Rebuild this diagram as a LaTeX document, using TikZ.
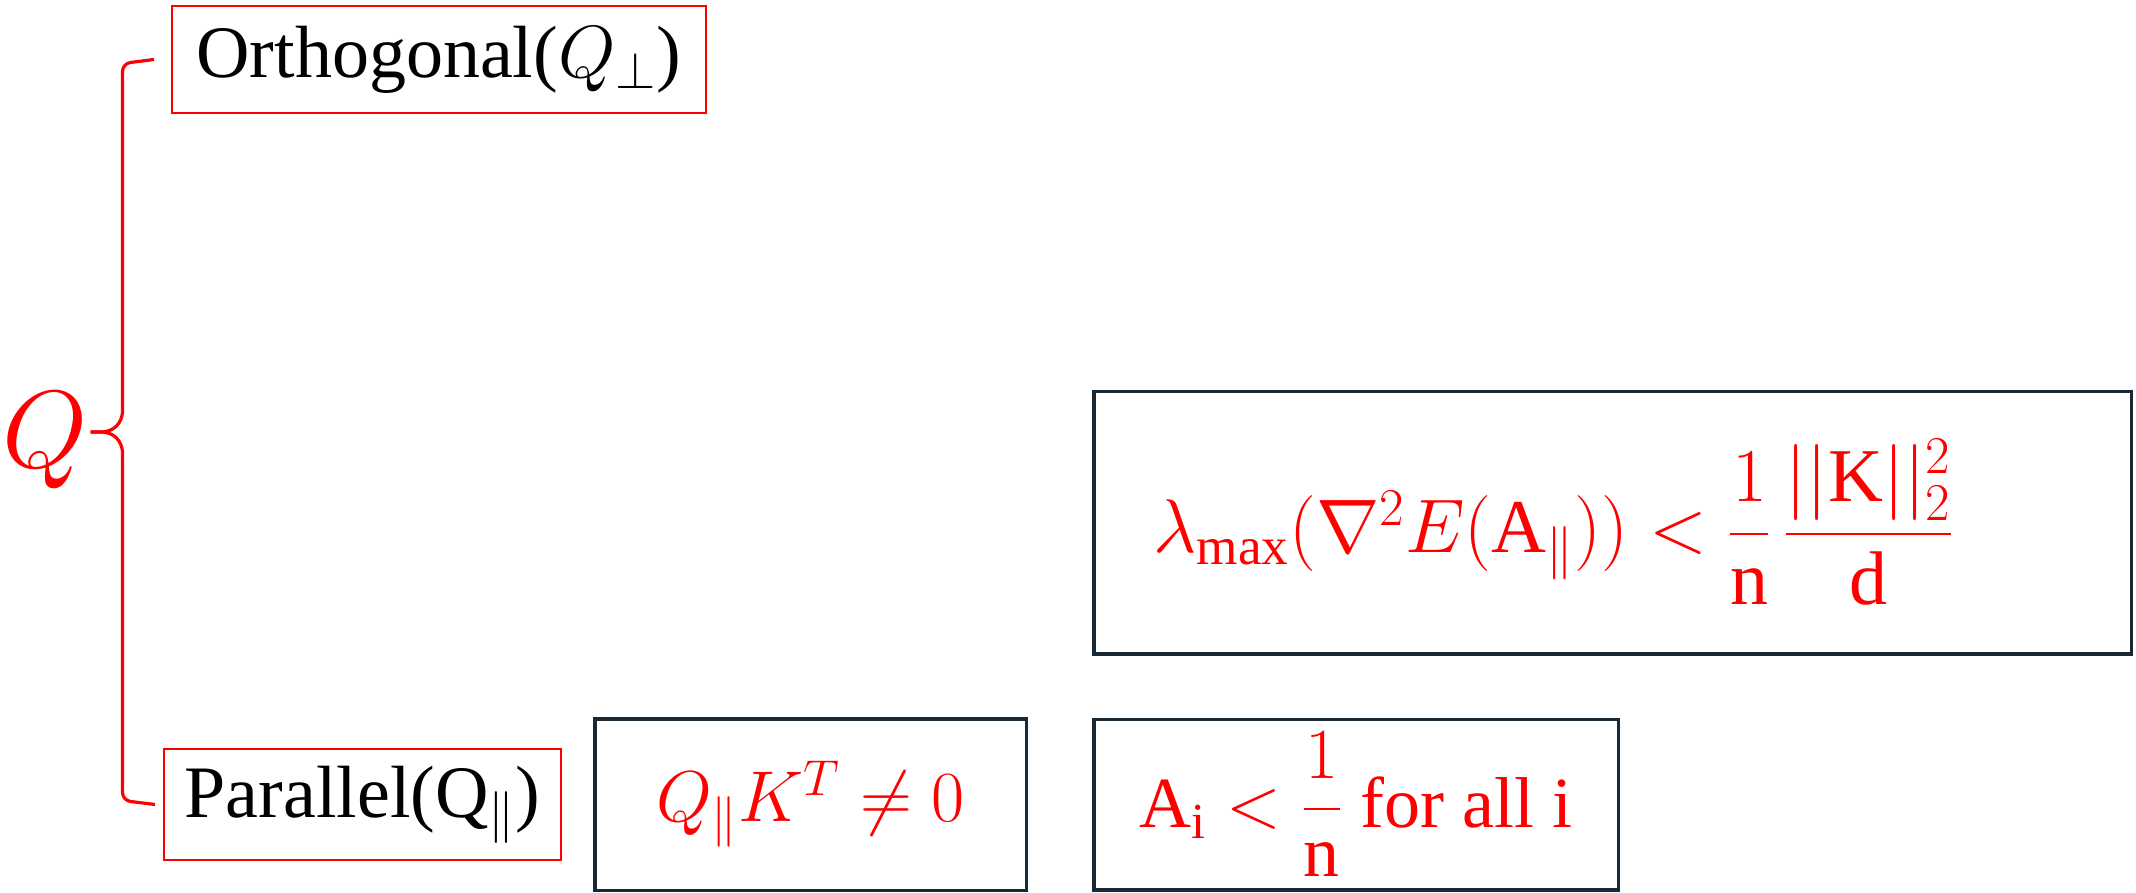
\RequirePackage{fix-cm}
\documentclass[tikz,border=0pt]{standalone}
\usepackage{amsmath}
\usepackage{fontspec}
\setmainfont{Liberation Serif}
\usetikzlibrary{positioning,calc}

\definecolor{qred}{RGB}{255,0,0}
\definecolor{condline}{RGB}{24,40,52}

\begin{document}
\begin{tikzpicture}[
  x=0.5pt, y=-0.5pt,
  lbl/.style={font=\fontsize{37}{44}\selectfont},
  eqn/.style={font=\fontsize{36}{44}\selectfont, text=qred},
  part/.style={draw=qred, line width=1pt, inner sep=0pt, lbl},
  cond/.style={draw=condline, line width=1.75pt, inner sep=0pt, eqn},
  brace/.style={draw=qred, line width=1.6pt, rounded corners=4pt},
]
\useasboundingbox (0,0) rectangle (2136,893);

%% ---------- Q and its two parts ----------
\node[part, minimum width=267pt, minimum height=53.5pt] (orth) at (439,59.5) {Orthogonal($Q_{\perp}$)};
\node[part, minimum width=198.5pt, minimum height=55.5pt] (par) at (362.5,804.5) {Parallel($\mathrm{Q}_{\|}$)};
\node[font=\fontsize{55}{60}\selectfont, text=qred, inner sep=0pt, anchor=base] (q) at (45,467) {$Q$};

%% ---------- brace ----------
\coordinate (bt) at ($(orth.west)+(-17,0)$);
\coordinate (bb) at ($(par.west)+(-8,0)$);
\coordinate (bm) at ($(bt)!0.5!(bb)$);
\coordinate (sx) at ($(bm)+(-32,0)$);
\coordinate (tip) at ($(bm)+(-64,0)$);
\draw[brace] (bt) -- ($(sx |- bt)+(0,4)$) -- ($(sx)+(0,-12)$) -- ($(sx)+(-12,0)$) -- (tip);
\draw[brace] (bb) -- ($(sx |- bb)+(0,-4)$) -- ($(sx)+(0,12)$) -- ($(sx)+(-12,0)$) -- (tip);

%% ---------- conditions ----------
\node[cond, minimum width=215.75pt, minimum height=85.75pt, right=15.5pt of par] (prod) {$Q_{\|}K^{T} \neq 0$};
\node[cond, minimum width=262.25pt, minimum height=85.25pt, right=32pt of prod] (attn) {$\mathrm{A}_{\mathrm{i}} < \dfrac{1}{\mathrm{n}}$ for all i};
\node[cond, minimum width=518.75pt, minimum height=131.25pt, text width=459pt, inner xsep=29.5pt, align=left,
      font=\fontsize{38}{46}\selectfont, above=31pt of attn.north west, anchor=south west] (hess)
      {$\lambda_{\max}(\nabla^{2}E(\mathrm{A}_{\|})) < \dfrac{1}{\mathrm{n}}\,\dfrac{||\mathrm{K}||_{2}^{2}}{\mathrm{d}}$};

\end{tikzpicture}
\end{document}
